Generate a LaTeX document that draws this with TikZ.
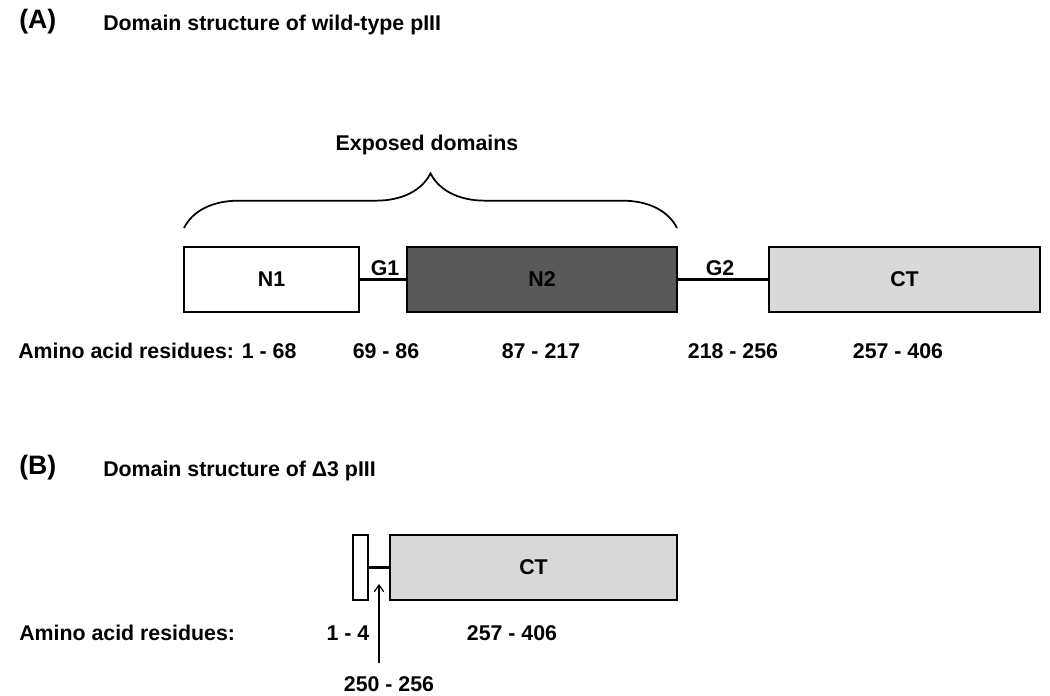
\documentclass[tikz,border=0pt]{standalone}
\usepackage{fontspec}
\setmainfont{Liberation Sans}
\usetikzlibrary{arrows.meta, decorations.pathreplacing}
\tikzset{dombox/.style={draw, line width=1pt, minimum height=48.75pt, inner sep=0pt, font=\bfseries\fontsize{16}{18}\selectfont},
  lbl/.style={font=\bfseries\fontsize{16}{18}\selectfont, inner sep=0pt},
  panel/.style={font=\bfseries\fontsize{20}{22}\selectfont, inner sep=0pt, anchor=west},
  linker/.style={line width=2pt}}
\definecolor{darkdom}{HTML}{595959}
\definecolor{lightdom}{HTML}{D9D9D9}

\begin{document}
\begin{tikzpicture}[x=0.75pt, y=-0.75pt]
\useasboundingbox (0,0) rectangle (1050,696);
% (A) wild-type
\node[panel] (pA) at (19,22) {(A)};
\node[lbl, anchor=west] (tA) at (103,25) {Domain structure of wild-type pIII};
\node[dombox, minimum width=131.25pt, fill=white] (n1) at (271.5,279.5) {N1};
\node[dombox, minimum width=202.5pt, fill=darkdom] (n2) at (542,279.5) {N2};
\node[dombox, minimum width=203.25pt, fill=lightdom] (ct) at (904.5,279.5) {CT};
\draw[linker] (n1.east) -- (n2.west);
\draw[linker] (n2.east) -- (ct.west);
\node[lbl] (g1) at (385,268) {G1};
\node[lbl] (g2) at (720,268) {G2};
\coordinate (bl) at (184,228);
\coordinate (br) at (677,228);
\draw[line width=1.3pt, decorate, decoration={brace, amplitude=41pt}] (bl) -- (br);
\node[lbl] (exp) at (427,145) {Exposed domains};
\node[lbl, anchor=west] (aaA) at (18,351) {Amino acid residues: 1 - 68};
\node[lbl] (r1) at (386,351) {69 - 86};
\node[lbl] (r2) at (541,351) {87 - 217};
\node[lbl] (r3) at (733,351) {218 - 256};
\node[lbl] (r4) at (898,351) {257 - 406};
% (B) delta3
\node[panel] (pB) at (19,468) {(B)};
\node[lbl, anchor=west] (tB) at (103,471) {Domain structure of Δ3 pIII};
\node[dombox, minimum width=11.25pt, fill=white] (n1b) at (360.5,567.5) {};
\node[dombox, minimum width=215.25pt, fill=lightdom] (ctb) at (533.5,567.5) {CT};
\draw[linker] (n1b.east) -- (ctb.west);
\node[lbl, anchor=west] (aaB) at (19,633) {Amino acid residues:};
\node[lbl] (r5) at (348,633) {1 - 4};
\node[lbl] (r6) at (512,633) {257 - 406};
\node[lbl] (r7) at (389,684) {250 - 256};
\coordinate (gapfoot) at (379,663);
\coordinate (gaptip) at (379,584);
\draw[line width=0.9pt, -{Straight Barb[length=5pt, width=7pt]}] (gapfoot) -- (gaptip);
\end{tikzpicture}
\end{document}
